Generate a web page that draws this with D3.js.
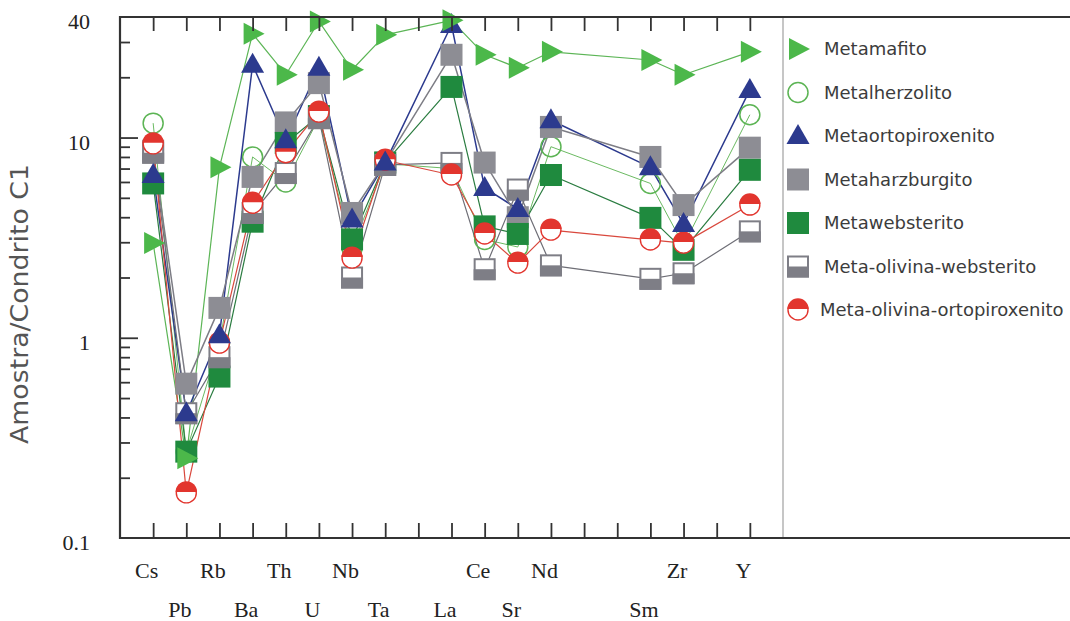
<!DOCTYPE html>
<html>
<head>
<meta charset="utf-8">
<script src="https://cdn.jsdelivr.net/npm/d3@7"></script>
<style>
  body { margin: 0; background: #fff; }
  svg { display: block; }
</style>
</head>
<body>
<svg id="chart" width="1070" height="621"></svg>
<script>
// Element order along the spider diagram (blank slots keep their tick)
const elements = ["Cs","Pb","Rb","Ba","Th","U","Nb","Ta","","La","Ce","Sr","Nd","","","Sm","Zr","","Y"];

// Sample / chondrite C1 ratios, one value per element slot (null = no value)
const metamafito        = [2.97, 0.25, 7.1, 33, 20.6, 38, 21.8, 32.6, null, 38.5, 25.9, 22.3, 26.8, null, null, 24.4, 20.6, null, 26.8];
const metalherzolito    = [11.8, 0.27, 0.94, 8.0, 6.0, 12.5, 2.8, 7.4, null, 7.0, 3.1, 2.84, 9.0, null, null, 5.9, 2.9, null, 13.0];
const metaortopiroxenito= [6.5, 0.42, 1.03, 23.1, 9.7, 22.3, 3.9, 7.5, null, 36.5, 5.6, 4.4, 12.2, null, null, 7.1, 3.7, null, 17.3];
const metaharzburgito   = [8.6, 0.59, 1.41, 6.36, 11.9, 18.7, 4.2, 7.5, null, 25.9, 7.5, 4.0, 11.3, null, null, 8.0, 4.6, null, 8.9];
const metawebsterito    = [5.9, 0.27, 0.64, 3.8, 9.4, 12.8, 3.1, 7.5, null, 17.9, 3.6, 3.3, 6.5, null, null, 3.97, 2.75, null, 6.9];
const olivinaWebsterito = [8.4, 0.42, 0.80, 4.2, 6.65, 12.5, 2.0, 7.3, null, 7.47, 2.2, 5.5, 2.3, null, null, 1.97, 2.1, null, 3.4];
const olivinaOrtopirox  = [9.3, 0.168, 0.94, 4.7, 8.4, 13.4, 2.5, 7.7, null, 6.5, 3.3, 2.36, 3.45, null, null, 3.08, 2.97, null, 4.6];

// Y axis labels and ticks
const yLabels = [0.1, 1, 10, 40];
const yMajor = [1, 10];
const yMinor = [0.2,0.3,0.4,0.5,0.6,0.7,0.8,0.9,2,3,4,5,6,7,8,9,20,30];

// Series appearance, listed in legend order
const series = [
  { name: "Metamafito", values: metamafito, marker: "triRight", color: "#4cb84a", line: "#5cb556", lw: 1.2 },
  { name: "Metalherzolito", values: metalherzolito, marker: "openCircle", color: "#5cb454", line: "#6bba62", lw: 1.0 },
  { name: "Metaortopiroxenito", values: metaortopiroxenito, marker: "triUp", color: "#2c3a8e", line: "#2c3a8e", lw: 1.5 },
  { name: "Metaharzburgito", values: metaharzburgito, marker: "square", color: "#8d8d94", line: "#7d7d85", lw: 1.5 },
  { name: "Metawebsterito", values: metawebsterito, marker: "square", color: "#1f8a3e", line: "#2a7c40", lw: 1.2 },
  { name: "Meta-olivina-websterito", values: olivinaWebsterito, marker: "halfSquare", color: "#7e7e86", line: "#6e6e76", lw: 1.2 },
  { name: "Meta-olivina-ortopiroxenito", values: olivinaOrtopirox, marker: "halfCircle", color: "#e2352e", line: "#d9483d", lw: 1.2 }
];
// Marker stacking order (first drawn = bottom)
const drawOrder = ["Metalherzolito","Metaharzburgito","Metawebsterito","Meta-olivina-websterito","Meta-olivina-ortopiroxenito","Metaortopiroxenito","Metamafito"];

const svg = d3.select("#chart");
const plotLeft = 120, plotTop = 17, plotBottom = 538, rightEdge = 1070;

const x = d3.scaleLinear().domain([-1, elements.length]).range([plotLeft, 783]);
const y = d3.scaleLog().domain([0.1, 40]).range([plotBottom, plotTop]);

// Separator between plot and legend
svg.append("line")
  .attr("x1", x(elements.length)).attr("x2", x(elements.length))
  .attr("y1", plotTop).attr("y2", plotBottom)
  .attr("stroke", "#a8a8a8").attr("stroke-width", 1.3);

// Series lines
const lineGen = d3.line().x(d => x(d.i)).y(d => y(d.v));
const pts = s => s.values.map((v, i) => ({ i, v })).filter(d => d.v != null);

svg.append("g").selectAll("path")
  .data(series)
  .join("path")
  .attr("d", s => lineGen(pts(s)))
  .attr("fill", "none")
  .attr("stroke", s => s.line)
  .attr("stroke-width", s => s.lw)
  .attr("stroke-linejoin", "round");

function drawMarker(g, type, color) {
  switch (type) {
    case "triRight":
      g.append("path").attr("d", "M-9,-11L12,0L-9,11Z").attr("fill", color);
      break;
    case "triUp":
      g.append("path").attr("d", "M0,-12L11.5,8L-11.5,8Z").attr("fill", color);
      break;
    case "openCircle":
      g.append("circle").attr("r", 10).attr("fill", "none").attr("stroke", color).attr("stroke-width", 1.5);
      break;
    case "square":
      g.append("rect").attr("x", -11).attr("y", -11).attr("width", 22).attr("height", 22).attr("fill", color);
      break;
    case "halfSquare":
      g.append("rect").attr("x", -10).attr("y", -10).attr("width", 20).attr("height", 20)
        .attr("fill", "#fff").attr("stroke", color).attr("stroke-width", 2);
      g.append("rect").attr("x", -11).attr("y", 0).attr("width", 22).attr("height", 11).attr("fill", color);
      break;
    case "halfCircle":
      g.append("circle").attr("r", 10).attr("fill", "#fff").attr("stroke", color).attr("stroke-width", 1.4);
      g.append("path").attr("d", "M-10.7,-1A10.7,10.7 0 0 1 10.7,-1Z").attr("fill", color);
      break;
  }
}

// Markers
const markLayer = svg.append("g");
drawOrder.forEach(name => {
  const s = series.find(d => d.name === name);
  pts(s).forEach(d => {
    const g = markLayer.append("g").attr("transform", `translate(${x(d.i)},${y(d.v)})`);
    drawMarker(g, s.marker, s.color);
  });
});

// X axes: inward ticks on the bottom and top
const idx = d3.range(elements.length);
const xb = svg.append("g").attr("transform", `translate(0,${plotBottom})`)
  .call(d3.axisBottom(x).tickValues(idx).tickSize(-15).tickSizeOuter(0)
    .tickFormat(i => elements[i]));
xb.select(".domain").remove();
xb.selectAll("text")
  .attr("y", (i) => i % 2 === 0 ? 40 : 79)
  .attr("dy", 0)
  .attr("dx", -7)
  .attr("font-family", "'Liberation Serif', 'Times New Roman', serif")
  .attr("font-size", 22)
  .attr("fill", "#222");

const xt = svg.append("g").attr("transform", `translate(0,${plotTop})`)
  .call(d3.axisTop(x).tickValues(idx).tickSize(-14).tickSizeOuter(0).tickFormat(""));
xt.select(".domain").remove();

// Y axis: minor and major inward ticks, labels
const ym = svg.append("g").attr("transform", `translate(${plotLeft},0)`)
  .call(d3.axisLeft(y).tickValues(yMinor).tickSize(-10).tickSizeOuter(0).tickFormat(""));
ym.select(".domain").remove();
const yM = svg.append("g").attr("transform", `translate(${plotLeft},0)`)
  .call(d3.axisLeft(y).tickValues(yMajor).tickSize(-18).tickSizeOuter(0).tickFormat(""));
yM.select(".domain").remove();
const yl = svg.append("g").attr("transform", `translate(${plotLeft},0)`)
  .call(d3.axisLeft(y).tickValues(yLabels).tickSize(0).tickPadding(30).tickFormat(d3.format("~g")));
yl.select(".domain").remove();
yl.selectAll("text")
  .attr("dy", "0.52em")
  .attr("font-family", "'Liberation Serif', 'Times New Roman', serif")
  .attr("font-size", 22)
  .attr("fill", "#222");

svg.selectAll(".tick line").attr("stroke", "#333").attr("stroke-width", 1.8);

// Frame lines
const frame = svg.append("g").attr("stroke", "#333").attr("stroke-width", 2.2);
frame.append("line").attr("x1", plotLeft - 1).attr("x2", rightEdge).attr("y1", plotTop).attr("y2", plotTop);
frame.append("line").attr("x1", plotLeft - 1).attr("x2", rightEdge).attr("y1", plotBottom).attr("y2", plotBottom);
frame.append("line").attr("x1", plotLeft).attr("x2", plotLeft).attr("y1", plotTop - 1).attr("y2", plotBottom + 1);

// Y axis title
svg.append("text")
  .attr("transform", `translate(28,304) rotate(-90)`)
  .attr("text-anchor", "middle")
  .attr("font-family", "'DejaVu Sans', sans-serif")
  .attr("font-size", 24)
  .attr("textLength", 280)
  .attr("lengthAdjust", "spacingAndGlyphs")
  .attr("fill", "#555")
  .text("Amostra/Condrito C1");

// Legend
const legendY = d3.scaleLinear().domain([0, series.length - 1]).range([49, 310]);
const legend = svg.append("g");
series.forEach((s, k) => {
  const g = legend.append("g").attr("transform", `translate(798,${legendY(k)})`);
  drawMarker(g, s.marker, s.color);
  legend.append("text")
    .attr("x", k === series.length - 1 ? 820 : 824)
    .attr("y", legendY(k))
    .attr("dy", "0.36em")
    .attr("font-family", "'DejaVu Sans', sans-serif")
    .attr("font-size", 18)
    .attr("fill", "#3c3c3c")
    .text(s.name);
});
</script>
</body>
</html>
